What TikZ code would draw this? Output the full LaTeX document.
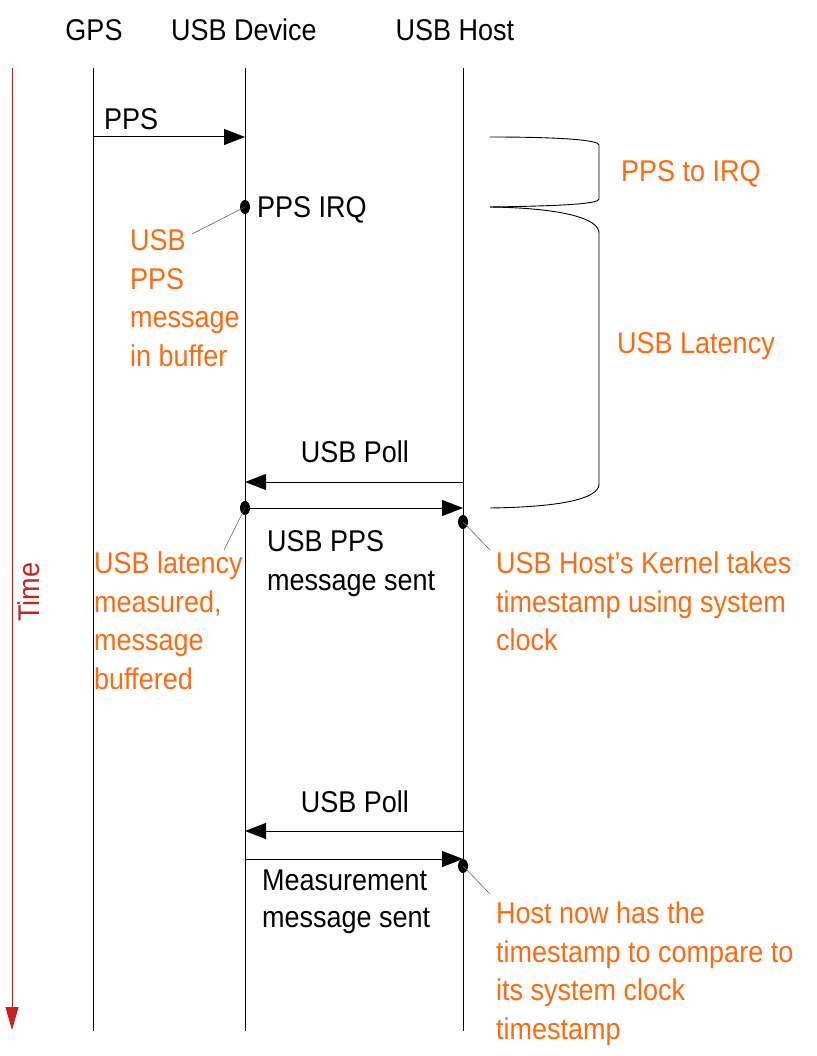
\documentclass[tikz,border=0pt]{standalone}
\usepackage{fontspec}
\setmainfont[FakeStretch=0.9]{Liberation Sans}
\usepackage[HTML]{xcolor}
\usepackage{tikz}
\usetikzlibrary{positioning, arrows, arrows.meta, shapes.geometric}

\definecolor{noteorange}{HTML}{FF6A10}
\definecolor{timered}{HTML}{C9211E}

\begin{document}
\begin{tikzpicture}[x=1pt, y=-1pt,
  every node/.style={font=\fontsize{30}{38.5}\selectfont, inner sep=0pt},
  lbl/.style={anchor=base west, align=left},
  note/.style={lbl, text=noteorange},
  head/.style={anchor=base},
  life/.style={line width=1pt},
  msg/.style={line width=1pt, -{Triangle[length=21pt, width=16pt]}},
  dot/.style={ellipse, fill, minimum width=10pt, minimum height=14pt},
  leader/.style={line width=0.6pt, gray!80!black},
  brace/.style={line width=0.9pt}]
\useasboundingbox (0,0) rectangle (816,1056);

% Define the nodes (multi-line texts sit on their last baseline)
\node[head] (gps) at (94,41) {GPS};
\node[head] (dev) at (244,41) {USB Device};
\node[head] (host) at (455,41) {USB Host};

\coordinate (gpsTop) at (93,68);  \coordinate (gpsBot) at (93,1031);
\coordinate (devTop) at (245,68); \coordinate (devBot) at (245,1031);
\coordinate (hostTop) at (463,68); \coordinate (hostBot) at (463,1031);
\coordinate (timeTop) at (12,68); \coordinate (timeBot) at (12,1030);

\coordinate (ppsFrom) at (93,137); \coordinate (ppsTo) at (245,137);
\coordinate (poll1From) at (463,482); \coordinate (poll1To) at (245,482);
\coordinate (sent1To) at (463,508);
\coordinate (poll2From) at (463,831); \coordinate (poll2To) at (245,831);
\coordinate (sent2From) at (245,859); \coordinate (sent2To) at (463,859);

\node[dot] (irq) at (245,207) {};
\node[dot] (devSent) at (245,508) {};
\node[dot] (hostStamp) at (463,522) {};
\node[dot] (hostMeas) at (463,866) {};

\node[lbl] (ppsLbl) at (104,129.5) {PPS};
\node[lbl] (irqLbl) at (257,217.5) {PPS IRQ};
\node[note] (bufNote) at (130,366) {USB\\PPS\\message\\in buffer};
\node[note] (ppsIrq) at (621,181.5) {PPS to IRQ};
\node[note] (usbLat) at (617,353.5) {USB Latency};
\node[head] (poll1Lbl) at (355,462.5) {USB Poll};
\node[lbl] (sent1Lbl) at (267,590) {USB PPS\\message sent};
\node[note] (latNote) at (94,689) {USB latency\\measured,\\message\\buffered};
\node[note] (kernNote) at (496,650.5) {USB Host’s Kernel takes\\timestamp using system\\clock};
\node[head] (poll2Lbl) at (355,812.5) {USB Poll};
\node[lbl] (sent2Lbl) at (262,927.5) {Measurement\\[-1.5pt]message sent};
\node[note] (hostNote) at (496,1039) {Host now has the\\timestamp to compare to\\its system clock\\timestamp};
\node[rotate=90, text=timered] (time) at (29,592) {Time};

% Draw the lifelines
\draw[life] (gpsTop) -- (gpsBot);
\draw[life] (devTop) -- (devBot);
\draw[life] (hostTop) -- (hostBot);
\draw[line width=1pt, timered, -{Triangle[length=23pt, width=13pt]}] (timeTop) -- (timeBot);

% Draw the messages
\draw[msg] (ppsFrom) -- (ppsTo);
\draw[msg] (poll1From) -- (poll1To);
\draw[msg] (devSent.center) -- (sent1To);
\draw[msg] (poll2From) -- (poll2To);
\draw[msg] (sent2From) -- (sent2To);

% Draw the leaders
\draw[leader] (irq.center) -- (192,234);
\draw[leader] (devSent.center) -- (224,550);
\draw[leader] (hostStamp.center) -- (490,550);
\draw[leader] (hostMeas.center) -- (490,894);

% Draw the braces
\draw[brace] (490,137) .. controls (560,137) and (599,140) .. (599,145)
  -- (599,199) .. controls (599,204) and (560,206) .. (490,207);
\draw[brace] (490,207) .. controls (560,208) and (599,218) .. (599,233)
  -- (599,484) .. controls (599,499) and (560,507) .. (490,508);
\end{tikzpicture}
\end{document}
